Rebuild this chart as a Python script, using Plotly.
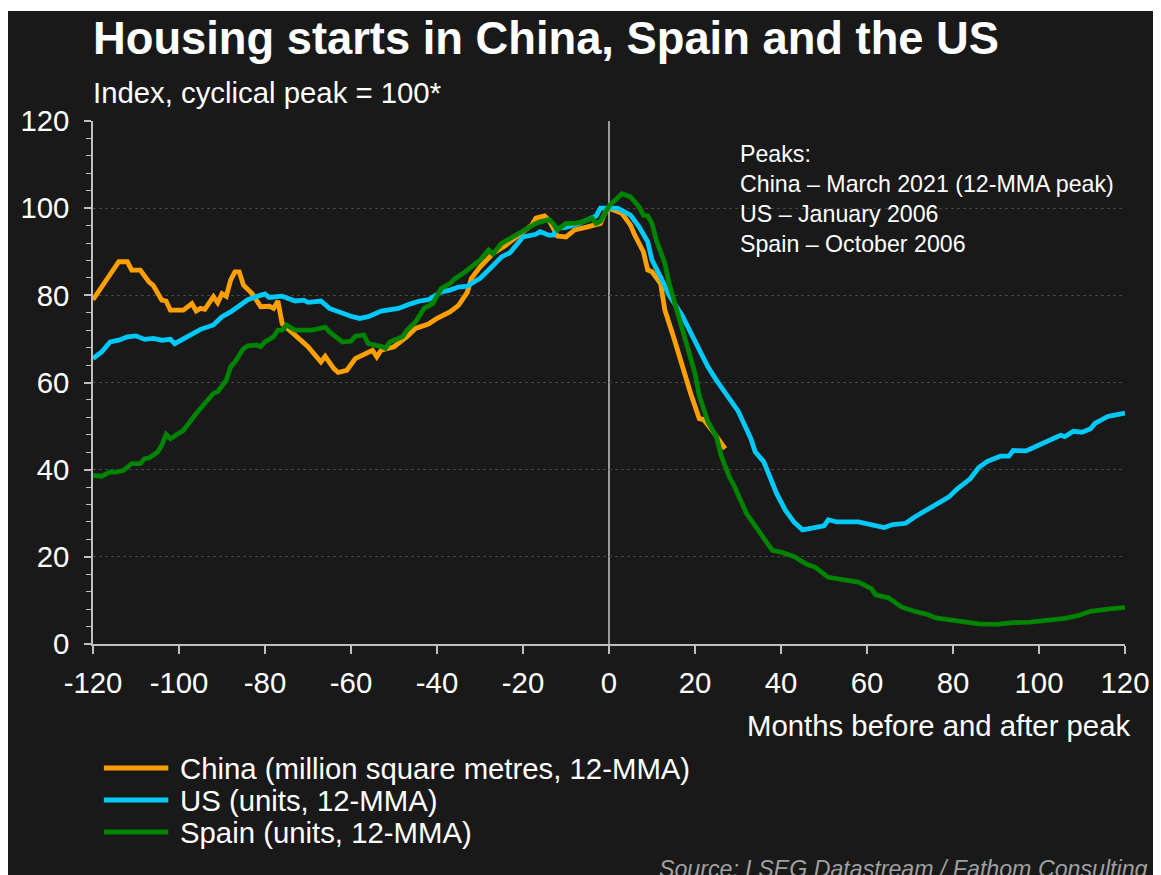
import plotly.graph_objects as go

# ---------------- data ----------------
china_months = [-120, -117, -114, -112, -111, -109, -107, -106, -104, -103, -102, -99, -97, -96, -95, -94,
                -92, -91, -90, -89, -88, -87, -86, -85, -83, -81, -79, -78, -77, -76, -73, -70, -67, -66,
                -64, -63, -61, -59, -55, -54, -53, -50, -47, -45, -42, -40, -37, -35, -33, -32, -30, -27,
                -24, -21, -18, -17, -15, -14, -12, -10, -8, -5, -2, -1, 0, 3, 5, 6, 8, 9, 10, 12, 13, 15,
                17, 19, 21, 22, 24, 27]
china_values = [79, 83.5, 87.7, 87.7, 85.8, 85.8, 83.1, 82.3, 78.9, 78.7, 76.6, 76.6, 78.1, 76.4, 77, 76.8,
                79.7, 78.3, 80.4, 79.8, 83.5, 85.4, 85.4, 82.3, 80.4, 77.4, 77.5, 77, 78.7, 73.5, 70.9, 68.2,
                64.7, 66, 63.2, 62.3, 62.8, 65.5, 67.4, 65.9, 67.4, 68.2, 70.5, 72.4, 73.4, 74.7, 76.2, 77.7,
                80.6, 83.9, 86.5, 89.6, 91.5, 93.8, 96.1, 97.7, 98.2, 97.3, 93.6, 93.4, 95, 95.7, 96.5, 98.8,
                100, 98.8, 96.1, 93.8, 90, 85.8, 85.4, 82.7, 76.6, 70.5, 63.6, 57.5, 51.7, 51.5, 49, 44.8]

us_months = [-120, -118, -116, -114, -112, -110, -108, -106, -104, -102, -101, -99, -97, -95, -92, -90,
             -88, -86, -84, -82, -80, -79, -76, -73, -71, -70, -67, -65, -63, -60, -58, -56, -53, -51,
             -49, -46, -44, -42, -39, -37, -35, -33, -30, -28, -25, -23, -20, -17, -16, -14, -13, -12,
             -10, -7, -4, -3, -2, 0, 2, 5, 7, 9, 10, 12, 14, 17, 20, 22, 23, 25, 30, 33, 34, 36, 39, 41,
             43, 45, 48, 50, 51, 53, 58, 60, 64, 66, 69, 71, 73, 76, 79, 81, 84, 86, 88, 91, 93, 94, 97,
             99, 102, 105, 106, 108, 110, 112, 113, 116, 117, 120]
us_values = [65.5, 67, 69.3, 69.7, 70.5, 70.7, 69.9, 70.1, 69.7, 69.9, 68.9, 69.9, 70.9, 72.2, 73.2, 75.1,
             76.2, 77.7, 79, 79.7, 80.3, 79.5, 79.8, 78.7, 78.9, 78.4, 78.7, 77, 76.2, 75.2, 74.7, 75.1,
             76.4, 76.6, 77, 78.1, 78.7, 79, 80.8, 81.2, 81.9, 82.1, 83.9, 85.8, 88.8, 89.8, 93.4, 94,
             94.6, 93.8, 93.8, 95.4, 95.6, 96.5, 98, 98.2, 100, 100, 100, 98.4, 95.7, 92.3, 88.1, 84.2,
             80, 75.4, 69.7, 65.9, 63.6, 60.5, 53.5, 47.1, 44.1, 41.8, 34.5, 30.7, 28, 26.2, 26.8, 27.1,
             28.5, 28, 28, 27.6, 26.7, 27.4, 27.7, 29.1, 30.3, 32.2, 33.7, 35.6, 37.9, 40.5, 41.9, 43.1,
             43.1, 44.4, 44.3, 45.2, 46.5, 47.9, 47.6, 48.8, 48.6, 49.4, 50.6, 52.2, 52.4, 53]

spain_months = [-120, -118, -116, -115, -113, -112, -111, -109, -108, -107, -105, -104, -103, -102, -100,
                -99, -96, -94, -92, -91, -89, -88, -87, -85, -84, -82, -81, -80, -78, -77, -76, -75, -73,
                -69, -66, -65, -62, -60, -59, -57, -56, -53, -52, -51, -48, -47, -45, -43, -41, -39, -37,
                -36, -34, -31, -30, -28, -27, -25, -23, -20, -17, -14, -13, -12, -10, -8, -6, -4, -3, -2,
                0, 3, 5, 7, 8, 9, 10, 11, 13, 14, 16, 18, 20, 21, 23, 25, 26, 28, 29, 32, 35, 38, 40, 43,
                46, 48, 51, 53, 55, 58, 61, 62, 65, 68, 71, 74, 76, 79, 82, 86, 90, 94, 98, 102, 106, 109,
                112, 116, 120]
spain_values = [38.7, 38.5, 39.5, 39.4, 39.8, 40.5, 41.4, 41.4, 42.5, 42.7, 44, 45.6, 48.1, 47.1, 48.3,
                49, 52.9, 55.2, 57.5, 57.9, 60.5, 63.6, 64.7, 67.8, 68.4, 68.6, 68.2, 69.3, 70.5, 72, 72,
                73.2, 72, 72, 72.7, 71.6, 69.3, 69.5, 70.6, 70.9, 68.9, 68.3, 67.8, 69.3, 70.5, 72, 73.9,
                77, 78.1, 81.6, 82.7, 83.7, 85, 87.3, 88.1, 90.4, 89.5, 91.9, 93.1, 95, 96.5, 97.4, 96.5,
                95, 96.5, 96.5, 96.9, 97.7, 96.5, 97, 100.5, 103.3, 102.6, 100.3, 98.4, 98.2, 96.5, 92.7,
                87.3, 82.7, 75.8, 68.9, 62.1, 57, 51, 47.5, 43.5, 38.3, 36.5, 29.9, 25.7, 21.5, 21.1, 20.1,
                18.3, 17.6, 15.3, 15, 14.5, 14.2, 12.7, 11.3, 10.6, 8.5, 7.5, 6.8, 6, 5.6, 5, 4.6, 4.5,
                4.9, 5, 5.4, 5.9, 6.5, 7.5, 8, 8.4]

series_names = ["China (million square metres, 12-MMA)", "US (units, 12-MMA)", "Spain (units, 12-MMA)"]
series_colors = ["#FF9F00", "#00C8F8", "#008300"]

x_ticks = [-120, -100, -80, -60, -40, -20, 0, 20, 40, 60, 80, 100, 120]
y_ticks = [0, 20, 40, 60, 80, 100, 120]

title_text = "Housing starts in China, Spain and the US"
subtitle_text = "Index, cyclical peak = 100*"
xaxis_title = "Months before and after peak"
peaks_text = ("Peaks:<br>China \u2013 March 2021 (12-MMA peak)<br>US \u2013 January 2006"
              "<br>Spain \u2013 October 2006")
source_text = "Source: LSEG Datastream / Fathom Consulting"

# ---------------- figure ----------------
BG = "#191919"
FONT = "Liberation Sans, Arial, sans-serif"
AX = "#bfbfbf"
FS = 29.33

OFF = 8                      # page body margin
W, H = 1161 - OFF, 875 - OFF
# page-pixel positions of the plot area
PLOT_L, PLOT_R, PLOT_T, PLOT_B = 87, 1129, 121, 644
ML, MR = PLOT_L - OFF, W - (PLOT_R - OFF)
MT, MB = PLOT_T - OFF, H - (PLOT_B - OFF)
PW, PH = PLOT_R - PLOT_L, PLOT_B - PLOT_T


def px_x(p):
    return (p - PLOT_L) / PW


def px_y(p):
    return (PLOT_B - p) / PH


fig = go.Figure()
for name, mx, vy, col in zip(series_names,
                             [china_months, us_months, spain_months],
                             [china_values, us_values, spain_values],
                             series_colors):
    fig.add_trace(go.Scatter(x=mx, y=vy, mode="lines", name=name,
                             line=dict(color=col, width=4.8), showlegend=False))

shapes = [
    # thin white band at top (reference dark area starts a little lower)
    dict(type="rect", xref="paper", yref="paper", x0=px_x(0), x1=px_x(1170),
         y0=px_y(11), y1=px_y(0), fillcolor="white", line=dict(width=0), layer="above"),
    dict(type="line", xref="x", yref="paper", x0=0, x1=0, y0=0, y1=1,
         line=dict(color="#c8c8c8", width=1.5), layer="below"),
]
leg_y = [768, 800, 832]
for col, yy in zip(series_colors, leg_y):
    shapes.append(dict(type="line", xref="paper", yref="paper", x0=px_x(98), x1=px_x(163),
                       y0=px_y(yy), y1=px_y(yy), line=dict(color=col, width=4.8), layer="above"))

annotations = [
    dict(text="<b>" + title_text + "</b>", xref="paper", yref="paper", x=px_x(85), y=px_y(38),
         xanchor="left", yanchor="middle", showarrow=False,
         font=dict(family=FONT, size=45.3, color="white")),
    dict(text=subtitle_text, xref="paper", yref="paper", x=px_x(85), y=px_y(92),
         xanchor="left", yanchor="middle", showarrow=False,
         font=dict(family=FONT, size=FS, color="white")),
    dict(text=xaxis_title, xref="paper", yref="paper", x=px_x(1136), y=px_y(725),
         xanchor="right", yanchor="middle", showarrow=False,
         font=dict(family=FONT, size=FS, color="white")),
    dict(text=peaks_text, xref="paper", yref="paper", x=px_x(738), y=px_y(139),
         xanchor="left", yanchor="top", align="left", showarrow=False,
         font=dict(family=FONT, size=23.2, color="white")),
    dict(text=source_text, xref="paper", yref="paper", x=px_x(1154), y=px_y(869),
         xanchor="right", yanchor="middle", showarrow=False,
         font=dict(family=FONT, size=23.2, color="#a0a0a0", style="italic")),
]
for name, yy in zip(series_names, leg_y):
    annotations.append(dict(text=name, xref="paper", yref="paper", x=px_x(173), y=px_y(yy),
                            xanchor="left", yanchor="middle", showarrow=False,
                            font=dict(family=FONT, size=FS, color="white")))

fig.update_layout(
    width=W, height=H,
    margin=dict(l=ML, r=MR, t=MT, b=MB, pad=0),
    paper_bgcolor=BG, plot_bgcolor=BG,
    font=dict(family=FONT, color="white"),
    shapes=shapes, annotations=annotations,
    showlegend=False,
    xaxis=dict(range=[-120, 120], tickvals=x_ticks, ticktext=[str(v) for v in x_ticks],
               showgrid=False, zeroline=False, showline=True, linecolor=AX, linewidth=1.5,
               ticks="outside", ticklen=8, tickcolor=AX, tickwidth=1.5,
               tickfont=dict(family=FONT, size=FS, color="white"), ticklabelstandoff=4),
    yaxis=dict(range=[0, 120], tickvals=y_ticks, ticktext=[str(v) for v in y_ticks],
               showgrid=True, gridcolor="#454545", griddash="dot", gridwidth=1,
               zeroline=False, showline=True, linecolor=AX, linewidth=1.5,
               ticks="outside", ticklen=7, tickcolor=AX, tickwidth=1.5,
               minor=dict(dtick=4, tick0=0, ticks="outside", ticklen=5, tickcolor=AX, tickwidth=1.2,
                          showgrid=False),
               tickfont=dict(family=FONT, size=FS, color="white"), ticklabelstandoff=9),
)

fig.write_html("out.html")
